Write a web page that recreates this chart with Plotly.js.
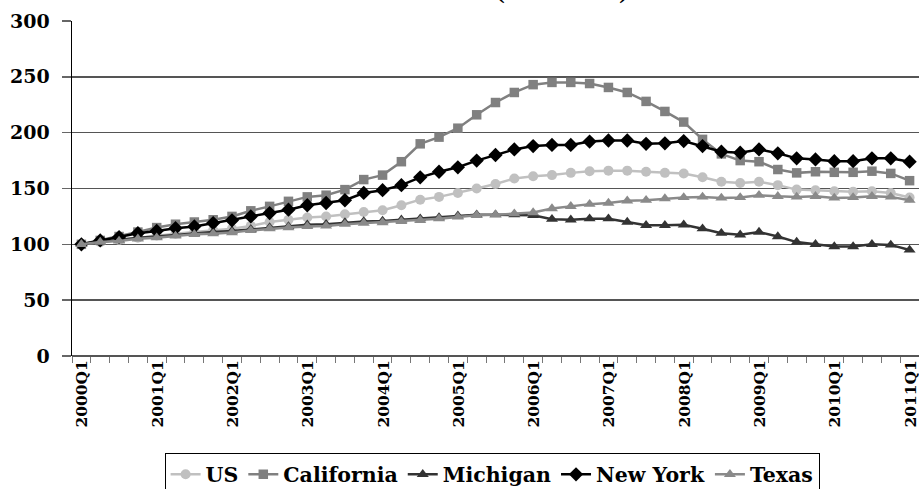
<!DOCTYPE html>
<html>
<head>
<meta charset="utf-8">
<script src="https://cdn.plot.ly/plotly-3.0.1.min.js"></script>
<style>
  html, body { margin: 0; padding: 0; background: #fff; }
  #chart { width: 919px; height: 489px; }
</style>
</head>
<body>
<div id="chart"></div>
<script>
const quarters = [
  "2000Q1","2000Q2","2000Q3","2000Q4",
  "2001Q1","2001Q2","2001Q3","2001Q4",
  "2002Q1","2002Q2","2002Q3","2002Q4",
  "2003Q1","2003Q2","2003Q3","2003Q4",
  "2004Q1","2004Q2","2004Q3","2004Q4",
  "2005Q1","2005Q2","2005Q3","2005Q4",
  "2006Q1","2006Q2","2006Q3","2006Q4",
  "2007Q1","2007Q2","2007Q3","2007Q4",
  "2008Q1","2008Q2","2008Q3","2008Q4",
  "2009Q1","2009Q2","2009Q3","2009Q4",
  "2010Q1","2010Q2","2010Q3","2010Q4",
  "2011Q1"
];
const tickLabels = ["2000Q1","2001Q1","2002Q1","2003Q1","2004Q1","2005Q1","2006Q1","2007Q1","2008Q1","2009Q1","2010Q1","2011Q1"];

const us = [100, 102, 104, 106, 108, 109.5, 111, 112.5, 114, 116.5, 120, 122,
  124, 125, 127, 129, 130.5, 135, 140, 142.5, 146, 150, 154, 159,
  161, 162, 164, 165.5, 166, 166, 165, 164, 163.5, 160, 156, 155,
  156, 153, 149, 148.5, 147.5, 147, 147.5, 146, 142];
const california = [100, 103.5, 107, 111, 115, 118, 120, 122, 125, 130, 134, 138.5,
  142.5, 144, 149, 158, 162, 174, 190, 196, 204, 216, 227, 236,
  243, 245, 245, 244, 240.5, 236, 228, 219, 209.5, 194, 181, 175,
  174, 167, 164, 165, 164.5, 164.5, 165.5, 163.5, 157];
const michigan = [100, 102, 104, 106, 107, 108.5, 110, 111, 112, 113.5, 115, 116,
  117.5, 118, 119.5, 120.5, 121, 122, 123, 124, 125.5, 126.5, 126.5, 126.5,
  126, 122.5, 122, 123, 123, 120, 117, 117, 117.5, 114, 110, 108.5,
  111, 107, 102, 100, 98, 98, 100, 99.5, 95];
const newYork = [100, 103.5, 106.5, 110, 112, 114.5, 116, 119, 121.5, 125, 128, 131,
  135, 137, 139.5, 146, 148.5, 153, 160, 165, 169, 175, 180, 185,
  188, 189, 189, 192, 193, 193, 190, 190.5, 192.5, 188, 183, 182,
  185, 181.5, 177, 176, 174.5, 174.5, 177, 177, 174];
const texas = [100, 102, 103, 105, 106, 107.5, 109, 109.5, 110.5, 112.5, 114, 115,
  116, 116.5, 118, 119, 119.5, 120.5, 121.5, 123, 124.5, 126, 126.5, 127.5,
  128.5, 132, 134, 136, 137, 139, 139.5, 141, 142, 142.5, 141.5, 142,
  144, 143, 142.5, 143, 141.5, 142, 143, 142.5, 139.5];

const FONT = "DejaVu Serif";

function series(name, y, color, symbol, size) {
  return {
    type: "scatter", mode: "lines+markers", name: name,
    x: quarters, y: y,
    line: { color: color, width: 2.5 },
    marker: { color: color, symbol: symbol, size: size }
  };
}

const data = [
  series("US", us, "#c0c0c0", "circle", 10),
  series("California", california, "#808080", "square", 9.5),
  series("Michigan", michigan, "#333333", "triangle-up", 10.5),
  series("New York", newYork, "#000000", "diamond", 11),
  series("Texas", texas, "#8a8a8a", "triangle-up", 10.5)
];

const layout = {
  width: 919, height: 489,
  margin: { l: 72, r: 0, t: 21, b: 133, autoexpand: false },
  paper_bgcolor: "#ffffff", plot_bgcolor: "#ffffff",
  font: { family: FONT, weight: "bold", color: "#000" },
  showlegend: true,
  legend: {
    orientation: "h", x: 0.496, xanchor: "center", y: -0.291, yanchor: "top",
    bordercolor: "#000", borderwidth: 1, bgcolor: "#fff",
    font: { family: FONT, weight: "bold", size: 20.5, color: "#000" },
    itemwidth: 30, tracegroupgap: 0
  },
  xaxis: {
    type: "category", range: [-0.5, 44.5],
    tickmode: "array", tickvals: quarters,
    ticktext: quarters.map(q => tickLabels.includes(q) ? q : ""),
    tickson: "boundaries", ticks: "outside", ticklen: 6, tickcolor: "#777", tickwidth: 1,
    tickangle: -90, ticklabelshift: 1,
    tickfont: { family: FONT, weight: "bold", size: 15.5, color: "#000" },
    showgrid: false, showline: false, zeroline: false, fixedrange: true
  },
  yaxis: {
    range: [0, 300], tickmode: "linear", tick0: 0, dtick: 50,
    ticks: "outside", ticklen: 9, tickcolor: "#666", tickwidth: 1.5,
    ticklabelstandoff: 8,
    tickfont: { family: FONT, weight: "bold", size: 19, color: "#000" },
    showgrid: true, gridcolor: "#555", gridwidth: 1.5,
    zeroline: true, zerolinecolor: "#555", zerolinewidth: 1.5,
    showline: true, linecolor: "#000", linewidth: 1.5, fixedrange: true
  },
  annotations: [{
    text: "Home Prices (2000=100)", xref: "paper", yref: "paper",
    x: 0.49, y: 1, xanchor: "center", yanchor: "bottom", yshift: 14,
    showarrow: false,
    font: { family: FONT, weight: "bold", size: 20, color: "#000" }
  }]
};

Plotly.newPlot("chart", data, layout, { displayModeBar: false, staticPlot: true });
</script>
</body>
</html>
